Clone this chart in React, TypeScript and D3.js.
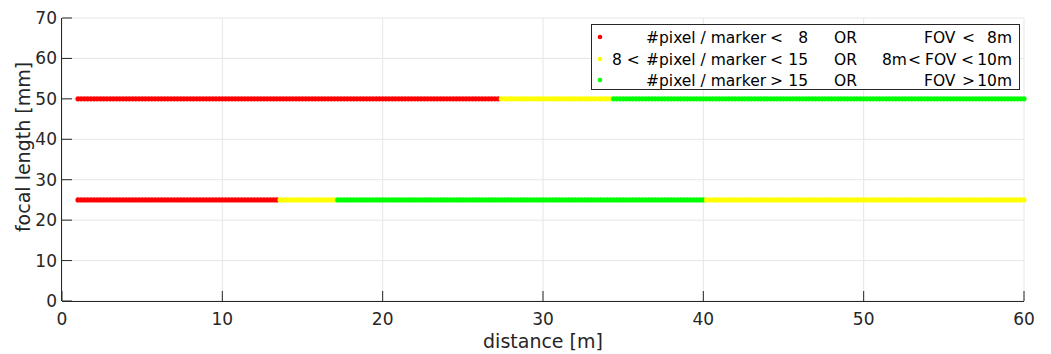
import React from "react";
import * as d3 from "d3";

// ---- data ----
const xTicks = [0, 10, 20, 30, 40, 50, 60];
const yTicks = [0, 10, 20, 30, 40, 50, 60, 70];
const sampleStep = 0.2; // distance sampling [m]
const distanceStart = 1;
const distanceEnd = 60;
const focalLengths = [50, 25];
// segments per focal length: [from, to, class] (class 0 red, 1 yellow, 2 green)
const seg50: [number, number, number][] = [
  [1, 27.3, 0],
  [27.3, 34.3, 1],
  [34.3, 60.01, 2],
];
const seg25: [number, number, number][] = [
  [1, 13.5, 0],
  [13.5, 17.1, 1],
  [17.1, 40.1, 2],
  [40.1, 60.01, 1],
];
const classColors = ["#ff0000", "#ffff00", "#00ff00"];

const W = 1051, H = 354;
const m = { left: 62, right: 1024, top: 18, bottom: 301 };
const font = "'DejaVu Sans', sans-serif";
const txt = "#262626";

export default function App() {
  const x = d3.scaleLinear().domain([0, 60]).range([m.left, m.right]);
  const y = d3.scaleLinear().domain([0, 70]).range([m.bottom, m.top]);
  const samples = d3.range(distanceStart, distanceEnd + 1e-6, sampleStep);
  const segsByF: Record<number, [number, number, number][]> = { 50: seg50, 25: seg25 };

  const dots: { d: number; f: number; c: number }[] = [];
  focalLengths.forEach((f) => {
    samples.forEach((d) => {
      const s = segsByF[f].find(([a, b]) => d >= a - 1e-9 && d < b);
      dots.push({ d, f, c: s ? s[2] : 2 });
    });
  });

  const lx = 591, ly = 24, lw = 428, lh = 65;
  const rows = [37, 59, 80];
  const dy = 5.5;

  return (
    <svg width={W} height={H} style={{ position: "absolute", left: 0, top: 0 }} fontFamily={font}>
      <rect x={0} y={0} width={W} height={H} fill="#fff" />
      {/* grid */}
      {xTicks.map((t) => (
        <line key={"gx" + t} x1={x(t)} x2={x(t)} y1={m.top} y2={m.bottom} stroke="#e6e6e6" />
      ))}
      {yTicks.map((t) => (
        <line key={"gy" + t} x1={m.left} x2={m.right} y1={y(t)} y2={y(t)} stroke="#e6e6e6" />
      ))}
      {/* ticks inward */}
      {xTicks.map((t) => (
        <line key={"tx" + t} x1={x(t)} x2={x(t)} y1={m.bottom} y2={m.bottom - 10} stroke={txt} />
      ))}
      {yTicks.map((t) => (
        <line key={"ty" + t} x1={m.left} x2={m.left + 10} y1={y(t)} y2={y(t)} stroke={txt} />
      ))}
      {/* axes */}
      <line x1={m.left} x2={m.right} y1={m.bottom + 0.5} y2={m.bottom + 0.5} stroke={txt} />
      <line x1={m.left - 0.5} x2={m.left - 0.5} y1={m.top} y2={m.bottom} stroke={txt} />
      {/* tick labels */}
      {xTicks.map((t) => (
        <text key={"lx" + t} x={x(t)} y={325} textAnchor="middle" fontSize={17} fill={txt}>
          {t}
        </text>
      ))}
      {yTicks.map((t) => (
        <text key={"ly" + t} x={57} y={y(t) + 6} textAnchor="end" fontSize={17} fill={txt}>
          {t}
        </text>
      ))}
      <text x={(m.left + m.right) / 2} y={348} textAnchor="middle" fontSize={19} fill={txt}>
        distance [m]
      </text>
      <text transform={`translate(30,147) rotate(-90)`} textAnchor="middle" fontSize={19} fill={txt}>
        focal length [mm]
      </text>
      {/* dots */}
      {dots.map((p, i) => (
        <circle key={i} cx={x(p.d)} cy={y(p.f)} r={2.6} fill={classColors[p.c]} />
      ))}
      {/* legend */}
      <rect x={lx + 0.5} y={ly + 0.5} width={lw} height={lh} fill="#fff" stroke="#262626" />
      {rows.map((ry, i) => (
        <circle key={"lm" + i} cx={600} cy={ry} r={2.3} fill={classColors[i]} />
      ))}
      <g fontSize={15.5} fill="#000">
        <text x={612} y={rows[1] + dy}>8 &lt;</text>
        {rows.map((ry, i) => (
          <text key={"a" + i} x={646} y={ry + dy}>#pixel / marker</text>
        ))}
        <text x={770} y={rows[0] + dy}>&lt;</text>
        <text x={770} y={rows[1] + dy}>&lt;</text>
        <text x={770} y={rows[2] + dy}>&gt;</text>
        <text x={808} y={rows[0] + dy} textAnchor="end">8</text>
        <text x={808} y={rows[1] + dy} textAnchor="end">15</text>
        <text x={808} y={rows[2] + dy} textAnchor="end">15</text>
        {rows.map((ry, i) => (
          <text key={"or" + i} x={834} y={ry + dy}>OR</text>
        ))}
        <text x={924} y={rows[0] + dy}>FOV</text>
        <text x={962} y={rows[0] + dy}>&lt;</text>
        <text x={1012} y={rows[0] + dy} textAnchor="end">8m</text>
        <text x={882} y={rows[1] + dy}>8m</text>
        <text x={908} y={rows[1] + dy}>&lt;</text>
        <text x={925} y={rows[1] + dy}>FOV</text>
        <text x={961} y={rows[1] + dy}>&lt;</text>
        <text x={1012} y={rows[1] + dy} textAnchor="end">10m</text>
        <text x={924} y={rows[2] + dy}>FOV</text>
        <text x={962} y={rows[2] + dy}>&gt;</text>
        <text x={1012} y={rows[2] + dy} textAnchor="end">10m</text>
      </g>
    </svg>
  );
}
